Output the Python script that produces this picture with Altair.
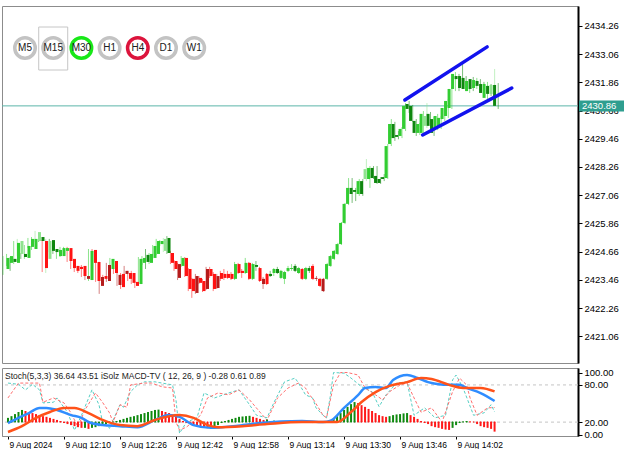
import altair as alt
import pandas as pd

# ---------------- data ----------------
opens = [2423.92, 2424.18, 2424.35, 2424.18, 2424.56, 2424.56, 2424.39, 2424.86, 2424.77, 2425.11,
         2425.28, 2425.11, 2424.35, 2425.15, 2424.77, 2424.47, 2424.47, 2424.69, 2424.81, 2424.35,
         2424.05, 2424.01, 2424.05, 2423.50, 2423.45, 2424.73, 2424.22, 2423.20, 2423.62, 2423.41,
         2423.92, 2424.26, 2423.24, 2423.71, 2423.71, 2423.75, 2423.75, 2423.37, 2423.28, 2424.18,
         2424.52, 2424.18, 2424.39, 2424.56, 2424.98, 2424.69, 2425.24, 2424.60, 2424.26, 2423.54,
         2424.05, 2424.39, 2423.92, 2423.50, 2422.90, 2423.54, 2423.41, 2423.07, 2423.92, 2423.71,
         2423.11, 2423.75, 2423.71, 2423.71, 2423.71, 2423.50, 2424.13, 2423.84, 2423.75, 2424.18,
         2423.50, 2424.09, 2423.96, 2423.28, 2423.71, 2423.71, 2423.75, 2423.92, 2423.54, 2423.50,
         2423.84, 2423.92, 2424.05, 2423.75, 2423.92, 2423.50, 2423.96, 2424.05, 2423.50, 2423.50,
         2422.98, 2423.50, 2424.05, 2424.35, 2424.56, 2424.98, 2425.88, 2426.69, 2427.37, 2427.28,
         2427.11, 2427.66, 2427.75, 2427.75, 2428.22, 2427.88, 2427.75, 2427.83, 2427.79, 2429.24,
         2430.09, 2429.62, 2429.58, 2429.88, 2430.94, 2430.86, 2430.22, 2429.71, 2429.71, 2430.01,
         2430.52, 2430.30, 2429.92, 2429.92, 2430.30, 2430.43, 2430.77, 2431.58, 2432.13, 2432.13,
         2432.05, 2431.49, 2432.00, 2431.62, 2431.92, 2431.79, 2431.20, 2431.71, 2431.37, 2431.75]
highs = [2424.47, 2424.56, 2424.43, 2425.11, 2425.20, 2424.60, 2424.94, 2425.24, 2425.28, 2425.54,
         2425.37, 2425.15, 2425.20, 2425.20, 2424.81, 2424.77, 2424.86, 2424.86, 2424.86, 2424.39,
         2424.09, 2424.05, 2424.09, 2423.71, 2424.77, 2424.77, 2424.26, 2423.67, 2423.67, 2424.18,
         2424.39, 2424.30, 2423.75, 2423.75, 2424.05, 2423.84, 2423.84, 2423.41, 2424.43, 2424.47,
         2424.77, 2424.60, 2424.94, 2425.20, 2425.15, 2425.24, 2425.32, 2424.69, 2424.30, 2424.18,
         2424.47, 2424.43, 2423.96, 2423.54, 2423.71, 2423.62, 2423.50, 2424.01, 2424.01, 2423.79,
         2423.71, 2423.84, 2423.92, 2423.84, 2423.79, 2424.22, 2424.18, 2423.92, 2424.39, 2424.22,
         2424.18, 2424.26, 2424.01, 2423.58, 2423.75, 2423.84, 2423.96, 2424.01, 2423.88, 2423.84,
         2424.05, 2424.13, 2424.13, 2424.01, 2423.96, 2424.01, 2424.05, 2424.13, 2423.62, 2423.54,
         2423.54, 2424.18, 2424.52, 2424.73, 2425.03, 2425.92, 2426.73, 2427.79, 2427.79, 2427.37,
         2427.75, 2427.75, 2428.60, 2428.30, 2428.30, 2428.30, 2427.83, 2427.96, 2429.24, 2430.30,
         2430.18, 2429.79, 2429.96, 2430.98, 2431.07, 2430.90, 2430.30, 2430.13, 2430.64, 2430.98,
         2430.60, 2430.39, 2430.52, 2430.43, 2430.86, 2431.15, 2431.66, 2432.30, 2432.22, 2432.64,
         2432.13, 2432.00, 2432.09, 2432.05, 2432.00, 2431.88, 2431.88, 2431.79, 2432.43, 2431.83]
lows = [2423.67, 2424.05, 2423.84, 2424.13, 2424.47, 2424.35, 2424.35, 2424.81, 2424.73, 2425.07,
        2425.07, 2423.79, 2423.75, 2424.64, 2424.56, 2424.35, 2424.43, 2424.64, 2424.22, 2423.92,
        2423.79, 2423.75, 2423.58, 2423.45, 2423.41, 2424.13, 2423.37, 2422.86, 2423.41, 2423.37,
        2423.84, 2423.71, 2423.20, 2423.07, 2423.62, 2423.41, 2423.28, 2423.11, 2423.24, 2424.09,
        2423.92, 2424.13, 2424.35, 2424.52, 2424.90, 2424.64, 2424.56, 2424.13, 2423.84, 2423.45,
        2424.01, 2423.58, 2422.98, 2422.69, 2422.86, 2423.28, 2422.94, 2423.03, 2423.54, 2422.98,
        2423.07, 2423.41, 2423.45, 2423.50, 2423.45, 2423.45, 2423.71, 2423.54, 2423.71, 2423.45,
        2423.45, 2423.84, 2423.37, 2423.07, 2423.24, 2423.58, 2423.62, 2423.71, 2423.50, 2423.28,
        2423.79, 2423.84, 2423.79, 2423.71, 2423.45, 2423.45, 2423.75, 2423.45, 2423.41, 2423.15,
        2422.94, 2423.45, 2424.01, 2424.30, 2424.52, 2424.94, 2425.83, 2426.64, 2426.73, 2426.81,
        2427.03, 2427.03, 2427.66, 2427.37, 2427.75, 2427.54, 2427.54, 2427.66, 2427.75, 2429.15,
        2429.37, 2429.44, 2429.49, 2429.79, 2430.56, 2430.18, 2429.58, 2429.62, 2429.66, 2429.92,
        2429.92, 2429.58, 2429.83, 2429.88, 2430.22, 2430.35, 2430.73, 2431.49, 2431.49, 2431.58,
        2431.49, 2431.41, 2431.49, 2431.58, 2431.62, 2431.28, 2431.15, 2431.28, 2431.28, 2430.73]
closes = [2424.39, 2424.47, 2424.22, 2425.03, 2425.11, 2424.43, 2424.90, 2425.20, 2425.20, 2425.49,
          2425.11, 2423.96, 2425.11, 2424.69, 2424.64, 2424.73, 2424.81, 2424.81, 2424.26, 2423.96,
          2423.84, 2423.92, 2423.62, 2423.62, 2424.69, 2424.18, 2423.41, 2423.58, 2423.50, 2424.09,
          2424.35, 2423.75, 2423.67, 2423.15, 2423.84, 2423.50, 2423.33, 2423.20, 2424.35, 2424.39,
          2424.22, 2424.56, 2424.90, 2425.11, 2425.11, 2425.20, 2424.60, 2424.18, 2423.92, 2424.13,
          2424.39, 2423.62, 2423.07, 2422.98, 2423.62, 2423.33, 2422.98, 2423.92, 2423.62, 2423.07,
          2423.62, 2423.50, 2423.54, 2423.54, 2423.50, 2424.13, 2423.75, 2423.75, 2424.18, 2423.50,
          2424.13, 2424.01, 2423.41, 2423.50, 2423.28, 2423.62, 2423.92, 2423.75, 2423.84, 2423.79,
          2423.96, 2423.96, 2423.84, 2423.96, 2423.50, 2423.96, 2423.84, 2423.50, 2423.54, 2423.20,
          2423.50, 2424.13, 2424.47, 2424.69, 2424.98, 2425.88, 2426.69, 2427.37, 2427.11, 2427.20,
          2427.66, 2427.11, 2428.17, 2428.22, 2427.79, 2427.58, 2427.58, 2427.75, 2429.15, 2430.09,
          2429.49, 2429.54, 2429.88, 2430.86, 2430.73, 2430.22, 2429.71, 2430.09, 2430.52, 2430.43,
          2430.01, 2429.71, 2430.43, 2430.35, 2430.77, 2431.07, 2431.58, 2432.22, 2432.00, 2431.62,
          2431.58, 2431.92, 2431.58, 2431.96, 2431.71, 2431.41, 2431.79, 2431.37, 2431.75, 2430.86]
# candle colour class as seen in the picture (g=green, lg=light green, dg=dark green, r=red, dr=dark red)
styles = ["g", "g", "dg", "g", "lg", "dg", "g", "g", "g", "lg",
          "dg", "r", "lg", "dg", "dg", "g", "g", "g", "r", "r",
          "r", "r", "r", "dr", "g", "r", "r", "dr", "r", "dr",
          "g", "r", "dr", "r", "dr", "r", "r", "r", "g", "g",
          "dg", "g", "g", "g", "g", "lg", "dg", "r", "r", "dr",
          "g", "r", "r", "r", "dr", "r", "r", "dr", "r", "r",
          "dr", "r", "r", "r", "r", "g", "r", "r", "g", "r",
          "g", "dg", "r", "dr", "r", "dg", "g", "dg", "g", "g",
          "g", "g", "dg", "g", "r", "g", "dg", "r", "dr", "r",
          "dr", "g", "g", "g", "g", "g", "g", "g", "dg", "dg",
          "g", "dg", "lg", "g", "dg", "dg", "dg", "dg", "g", "g",
          "dg", "dg", "g", "g", "dg", "dg", "dg", "g", "g", "lg",
          "dg", "dg", "g", "g", "g", "g", "g", "g", "dg", "dg",
          "dg", "g", "dg", "g", "dg", "dg", "g", "dg", "lg", "dg"]

price_ticks = [2421.06, 2422.26, 2423.46, 2424.66, 2425.86, 2427.06,
               2428.26, 2429.46, 2430.66, 2431.86, 2433.06, 2434.26]
current_price = [2430.86]

trend_ids = ["upper", "upper", "lower", "lower"]
trend_bars = [112.8, 135.9, 117.8, 142.8]
trend_prices = [2431.11, 2433.37, 2429.62, 2431.62]

tf_labels = ["M5", "M15", "M30", "H1", "H4", "D1", "W1"]
tf_rings = ["#c3c3c3", "#c3c3c3", "#18e818", "#c3c3c3", "#dc143c", "#c3c3c3", "#c3c3c3"]
tf_selected = [1]

time_label_bars = [0, 16, 32, 48, 64, 80, 96, 112, 128]
time_labels = ["9 Aug 2024", "9 Aug 12:10", "9 Aug 12:26", "9 Aug 12:42", "9 Aug 12:58",
               "9 Aug 13:14", "9 Aug 13:30", "9 Aug 13:46", "9 Aug 14:02"]

# Stochastic (5,3,3): main (%K) and signal (%D) vertices
k_bars = [0, 3, 5, 7, 9, 10, 13, 14, 17, 19, 21, 24, 26, 27, 29, 32, 33, 35, 37, 39, 42, 47, 48, 49, 51,
          54, 56, 59, 63, 66, 69, 71, 74, 76, 79, 82, 83, 85, 87, 88, 90, 91, 92, 93, 96, 98, 101, 104,
          106, 108, 111, 114, 116, 119, 122, 125, 127, 128, 130, 133, 136, 138, 139]
k_vals = [83, 81, 72, 81, 72, 51, 52, 59, 36, 7, 31, 72, 48, 20, 10, 48, 44, 69, 80, 85, 85, 80, 55, 2, 20,
          27, 67, 59, 67, 72, 48, 31, 27, 52, 85, 91, 83, 64, 59, 43, 31, 27, 59, 100, 99, 91, 77, 69,
          45, 64, 83, 85, 31, 43, 27, 31, 88, 96, 75, 31, 35, 48, 36.64]
d_bars = [0, 3, 5, 9, 10, 13, 16, 18, 20, 22, 25, 27, 29, 30, 32, 34, 35, 39, 41, 44, 47, 48, 49, 51, 55,
          57, 60, 63, 66, 69, 72, 74, 77, 80, 83, 85, 86, 87, 90, 91, 93, 95, 97, 100, 102, 105, 107,
          109, 112, 114, 116, 118, 121, 124, 127, 129, 131, 132, 134, 137, 139]
d_vals = [59, 83, 83, 83, 52, 59, 51, 35, 12, 40, 67, 52, 35, 20, 48, 44, 80, 83, 83, 77, 75, 20, 7, 12, 31,
          59, 67, 64, 72, 56, 36, 23, 59, 75, 83, 75, 64, 59, 31, 27, 80, 100, 100, 96, 75, 64, 56,
          69, 80, 83, 59, 36, 43, 20, 69, 91, 80, 59, 31, 43, 43.51]
stoch_levels = [80, 20]

# iSolz MACD-TV (12,26,9)
macd_bars = [0, 3, 6, 9, 11, 14, 18, 21, 23, 27, 32, 37, 42, 46, 49, 53, 58, 61, 67, 72, 84, 90, 92, 96,
             100, 102, 105, 108, 110, 114, 117, 120, 123, 126, 129, 131, 135, 139]
macd_vals = [-0.03, 0.12, 0.26, 0.41, 0.41, 0.35, 0.20, 0.12, 0.0, -0.09, -0.12, -0.15, 0.06, 0.20, 0.15,
             -0.09, -0.17, -0.15, -0.09, -0.03, 0.03, 0.0, 0.03, 0.41, 0.78, 0.99, 1.02, 0.99, 1.22, 1.37,
             1.28, 1.16, 1.10, 1.08, 1.08, 0.99, 0.84, 0.61]
sig_bars = [0, 4, 8, 12, 16, 19, 23, 27, 32, 37, 42, 49, 53, 57, 60, 67, 74, 84, 94, 98, 101, 105, 109,
            114, 118, 121, 126, 130, 135, 139]
sig_vals = [-0.29, -0.12, 0.12, 0.29, 0.41, 0.41, 0.26, 0.06, -0.09, -0.12, 0.06, 0.20, 0.12, -0.09, -0.15,
            -0.12, -0.06, 0.0, 0.0, 0.29, 0.58, 0.87, 1.05, 1.16, 1.28, 1.25, 1.08, 0.99, 0.99, 0.89]
hist_vals = [0.12, 0.17, 0.23, 0.29, 0.35,
             0.32, 0.29, 0.26, 0.23, 0.20, 0.17,
             0.15, 0.12, 0.09, 0.06, 0.03,
             -0.03, -0.06, -0.09, -0.12,
             -0.15, -0.17, -0.17, -0.20,
             -0.17, -0.15, -0.12, -0.09, -0.06,
             -0.03, 0.0, 0.03,
             0.06, 0.09, 0.12, 0.15, 0.17, 0.20, 0.23, 0.26,
             0.29, 0.32, 0.35, 0.36, 0.32, 0.29, 0.26,
             0.20, 0.15, 0.09, 0.03,
             -0.03, -0.06, -0.09, -0.12, -0.15, -0.17, -0.18, -0.20, -0.17,
             -0.09, -0.03, 0.03, 0.06, 0.09, 0.12, 0.15, 0.16, 0.17, 0.18, 0.15, 0.12, 0.09,
             0.06, 0.07, 0.03, 0.04, 0.03, 0.0, 0.01, 0.0, 0.03, 0.04, 0.0, 0.01, 0.0, 0.01, -0.03, -0.02,
             0.0, 0.01, 0.03, 0.06,
             0.09, 0.17, 0.26, 0.35, 0.44, 0.52, 0.58,
             0.55, 0.49, 0.44, 0.38, 0.32, 0.26, 0.20, 0.17, 0.15,
             0.17, 0.20, 0.22, 0.23, 0.25, 0.26, 0.20, 0.15, 0.09, 0.03,
             -0.03, -0.06, -0.12, -0.15, -0.17, -0.20, -0.22, -0.23,
             -0.17, -0.09, -0.03, 0.01, 0.03, 0.01, 0.0,
             -0.06, -0.12, -0.15, -0.17, -0.20, -0.28]
sub_header = "Stoch(5,3,3) 36.64 43.51 iSolz MACD-TV ( 12, 26, 9 ) -0.28 0.61 0.89"

# ---------------- frames ----------------
n = len(opens)
candles = pd.DataFrame({"bar": list(range(n)), "open": opens, "high": highs, "low": lows,
                        "close": closes, "style": styles})
candles["body_lo"] = candles[["open", "close"]].min(axis=1)
candles["body_hi"] = candles[["open", "close"]].max(axis=1)

trend = pd.DataFrame({"id": trend_ids, "bar": trend_bars, "price": trend_prices})
buttons = pd.DataFrame({"i": list(range(len(tf_labels))), "label": tf_labels, "ring": tf_rings})
selected = pd.DataFrame({"i": tf_selected})
price_df = pd.DataFrame({"price": current_price})

hist = pd.DataFrame({"bar": list(range(len(hist_vals))), "h": hist_vals})
hist["dir"] = ["up" if k == 0 or hist_vals[k] >= hist_vals[k - 1] else "down" for k in range(len(hist_vals))]
kdf = pd.DataFrame({"bar": k_bars, "v": k_vals})
ddf = pd.DataFrame({"bar": d_bars, "v": d_vals})
levels = pd.DataFrame({"v": stoch_levels})
mdf = pd.DataFrame({"bar": macd_bars, "m": macd_vals})
sdf = pd.DataFrame({"bar": sig_bars, "m": sig_vals})
header = pd.DataFrame({"t": [sub_header]})

# ---------------- scales / sizes ----------------
W = 576
H_MAIN = 357
H_SUB = 68
FONT = "Liberation Sans"

xs = alt.Scale(domain=[-0.28, 161.4], nice=False, zero=False)
ys = alt.Scale(domain=[2419.92, 2435.11], nice=False, zero=False)
ss = alt.Scale(domain=[-2.4, 107.3], nice=False, zero=False)
ms = alt.Scale(domain=[-0.407, 1.570], nice=False, zero=False)
bs = alt.Scale(domain=[-0.816, 19.61], nice=False, zero=False)

candle_color = alt.Color("style:N", legend=None,
                         scale=alt.Scale(domain=["g", "lg", "dg", "r", "dr"],
                                         range=["#32cd32", "#8fe38f", "#0f870f", "#ff1212", "#b51b1b"]))

price_axis = alt.Axis(orient="right", values=price_ticks, format=".2f", title=None, grid=False,
                      labelFont=FONT, labelFontSize=9.5, labelColor="#000000", labelOverlap=False,
                      tickColor="#000000", tickSize=4, tickWidth=1, labelPadding=2,
                      domainColor="#000000", domainWidth=2)

xaxis_none = alt.X("bar:Q", scale=xs, axis=None)

price_line = alt.Chart(price_df).mark_rule(color="#5cb5a9", strokeWidth=1).encode(
    y=alt.Y("price:Q", scale=ys, axis=price_axis))

wicks = alt.Chart(candles).mark_rule(strokeWidth=1, opacity=0.55).encode(
    x=xaxis_none,
    y=alt.Y("low:Q", scale=ys, axis=price_axis),
    y2="high:Q",
    color=candle_color)

bodies = alt.Chart(candles).mark_bar(size=3).encode(
    x=xaxis_none,
    y=alt.Y("body_lo:Q", scale=ys, axis=price_axis),
    y2="body_hi:Q",
    color=candle_color)

trend_lines = alt.Chart(trend).mark_line(color="#1212ee", strokeWidth=3.5, strokeCap="round").encode(
    x=alt.X("bar:Q", scale=xs, axis=None),
    y=alt.Y("price:Q", scale=ys, axis=price_axis),
    detail="id:N")

price_box = alt.Chart(price_df).mark_rect(color="#2f9e8f", yOffset=-5.5, y2Offset=5.5, clip=False).encode(
    x=alt.value(W + 1), x2=alt.value(W + 46),
    y=alt.Y("price:Q", scale=ys, axis=price_axis), y2="price:Q")
price_txt = alt.Chart(price_df).mark_text(align="left", baseline="middle", color="white", font=FONT,
                                          fontSize=9.5, dx=3, clip=False).encode(
    x=alt.value(W + 1),
    y=alt.Y("price:Q", scale=ys, axis=price_axis),
    text=alt.Text("price:Q", format=".2f"))

sel_box = alt.Chart(selected).mark_rect(fillOpacity=0, stroke="#c6c6c6", strokeWidth=1,
                                        xOffset=-14.5, x2Offset=14.5).encode(
    x=alt.X("i:Q", scale=bs, axis=None), x2="i:Q",
    y=alt.value(21), y2=alt.value(64))
rings = alt.Chart(buttons).mark_point(shape="circle", size=420, filled=True, fill="white",
                                      fillOpacity=1, strokeWidth=3.5, opacity=1).encode(
    x=alt.X("i:Q", scale=bs, axis=None),
    y=alt.value(42),
    stroke=alt.Stroke("ring:N", scale=None))
ring_txt = alt.Chart(buttons).mark_text(font=FONT, fontSize=10, color="#202020", baseline="middle").encode(
    x=alt.X("i:Q", scale=bs, axis=None),
    y=alt.value(42),
    text="label:N")

main = alt.layer(price_line, wicks, bodies, trend_lines, price_box, price_txt,
                 sel_box, rings, ring_txt).resolve_scale(x="independent").properties(
    width=W, height=H_MAIN)

# ---------------- sub panel ----------------
label_expr = "[" + ",".join("'" + t + "'" for t in time_labels) + "][round(datum.value/16)]"
time_axis = alt.Axis(orient="bottom", values=time_label_bars, labelExpr=label_expr, title=None, grid=False,
                     labelAlign="left", labelFlush=False, labelOverlap=False, labelFont=FONT,
                     labelFontSize=8.5, labelColor="#000000", labelPadding=1, labelOffset=1,
                     tickColor="#000000", tickSize=3, domainColor="#8c8c8c")
stoch_axis = alt.Axis(orient="right", values=[0, 20, 80, 100], format=".2f", title=None, grid=False,
                      labelFont=FONT, labelFontSize=9.5, labelColor="#000000", labelOverlap=False,
                      tickColor="#000000", tickSize=4, labelPadding=2,
                      domainColor="#000000", domainWidth=2)

sx = alt.X("bar:Q", scale=xs, axis=time_axis)

lvl = alt.Chart(levels).mark_rule(color="#c4c4c4", strokeDash=[3, 3], strokeWidth=1).encode(
    y=alt.Y("v:Q", scale=ss, axis=stoch_axis))
k_line = alt.Chart(kdf).mark_line(color="#55cfc4", strokeWidth=1, strokeDash=[3, 2]).encode(
    x=sx, y=alt.Y("v:Q", scale=ss, axis=stoch_axis))
d_line = alt.Chart(ddf).mark_line(color="#ff6f6f", strokeWidth=1, strokeDash=[3, 2]).encode(
    x=sx, y=alt.Y("v:Q", scale=ss, axis=stoch_axis))
stoch_group = alt.layer(lvl, k_line, d_line)

hist_color = alt.Color("dir:N", legend=None,
                       scale=alt.Scale(domain=["up", "down"], range=["#118a11", "#ff1a1a"]))
hist_bars = alt.Chart(hist).mark_bar(size=2).encode(
    x=sx,
    y=alt.Y("h:Q", scale=ms, axis=None),
    y2=alt.datum(0),
    color=hist_color)
zero_dots = alt.Chart(hist).mark_square(size=2, opacity=0.8).encode(
    x=sx,
    y=alt.Y(datum=0, scale=ms, axis=None),
    color=hist_color)
macd_line = alt.Chart(mdf).mark_line(color="#2f8dff", strokeWidth=2.5, interpolate="monotone").encode(
    x=sx, y=alt.Y("m:Q", scale=ms, axis=None))
sig_line = alt.Chart(sdf).mark_line(color="#ff5219", strokeWidth=2.5, interpolate="monotone").encode(
    x=sx, y=alt.Y("m:Q", scale=ms, axis=None))
macd_group = alt.layer(hist_bars, zero_dots, macd_line, sig_line)

head_txt = alt.Chart(header).mark_text(align="left", baseline="middle", font=FONT, fontSize=8.5,
                                        color="#1a1a1a").encode(
    x=alt.value(3), y=alt.value(8), text="t:N")

sub = alt.layer(stoch_group, macd_group, head_txt).resolve_scale(y="independent").properties(
    width=W, height=H_SUB)

chart = alt.vconcat(main, sub, spacing=3).resolve_scale(
    x="independent", y="independent", color="independent"
).configure(
    padding={"left": 1, "top": 5, "right": 0, "bottom": 0}, background="white"
).configure_view(stroke="#8c8c8c", strokeWidth=1)

chart.save("out.html", embed_options={"renderer": "svg", "actions": False})
